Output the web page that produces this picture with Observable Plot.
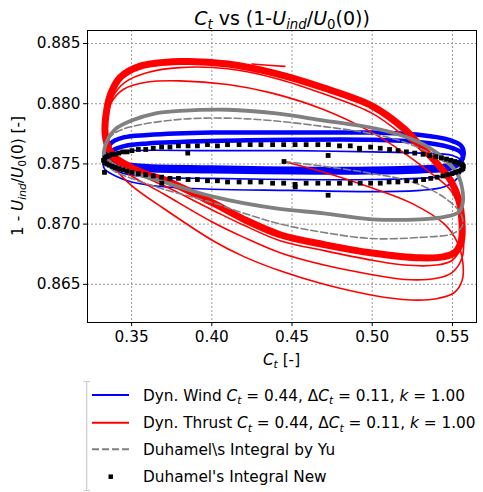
<!DOCTYPE html>
<html>
<head>
<meta charset="utf-8">
<script src="https://cdn.jsdelivr.net/npm/d3@7"></script>
<script src="https://cdn.jsdelivr.net/npm/@observablehq/plot@0.6"></script>
<style>
  html, body { margin: 0; padding: 0; background: white; }
  #wrap { position: relative; width: 483px; height: 492px; overflow: hidden; font-family: "DejaVu Sans", sans-serif; }
  #plot { position: absolute; left: 0; top: 0; }
  #legend { position: absolute; left: 0; top: 370px; }
</style>
</head>
<body>
<div id="wrap"><div id="plot"></div><svg id="legend" width="483" height="122"></svg></div>
<script>
// ---------- data ----------
const xTicks = [0.35, 0.40, 0.45, 0.50, 0.55];
const yTicks = [0.865, 0.870, 0.875, 0.880, 0.885];
const xDomain = [0.3225, 0.565];
const yDomain = [0.86183, 0.88608];

// Dyn. Wind (blue): two overlapping steady loops + early cycles
const windLoopA = [[0.3345,0.8758],[0.3370,0.8767],[0.3450,0.8772],[0.3600,0.8774],[0.4000,0.8776],[0.4500,0.8776],[0.5000,0.8776],[0.5300,0.8774],[0.5480,0.8770],[0.5555,0.8765],[0.5570,0.8758],[0.5555,0.8753],[0.5480,0.8749],[0.5300,0.8747],[0.5000,0.8746],[0.4500,0.8746],[0.4000,0.8747],[0.3600,0.8748],[0.3450,0.8750],[0.3370,0.8753]];
const windLoopB = [[0.3350,0.8755],[0.3380,0.8761],[0.3460,0.8765],[0.3600,0.8767],[0.4000,0.8769],[0.4500,0.8770],[0.5000,0.8770],[0.5300,0.8768],[0.5480,0.8764],[0.5550,0.8760],[0.5565,0.8756],[0.5550,0.8751],[0.5480,0.8746],[0.5300,0.8744],[0.5000,0.8743],[0.4500,0.8743],[0.4000,0.8744],[0.3600,0.8745],[0.3460,0.8747],[0.3380,0.8750]];
const windEarly = [[0.5565,0.8748],[0.5530,0.8738],[0.5450,0.8731],[0.5300,0.8728],[0.5000,0.8727],[0.4500,0.8728],[0.4000,0.8729],[0.3700,0.8731],[0.3500,0.8735],[0.3400,0.8740],[0.3330,0.8746],[0.3330,0.8754],[0.3380,0.8759],[0.3500,0.8761],[0.4000,0.8761],[0.4500,0.8761],[0.5000,0.8760],[0.5300,0.8759],[0.5500,0.8757],[0.5570,0.8751],[0.5540,0.8743],[0.5400,0.8739],[0.5000,0.8737],[0.4500,0.8737],[0.4000,0.8738],[0.3600,0.8739],[0.3450,0.8742],[0.3360,0.8748]];

// Dyn. Thrust (red): steady loop band + early cycles + trajectory end
const thrustLoop = [[0.3335,0.8775],[0.3345,0.8795],[0.3375,0.8810],[0.3430,0.8822],[0.3550,0.8831],[0.3800,0.8835],[0.4100,0.8833],[0.4400,0.8825],[0.4700,0.8813],[0.5000,0.8798],[0.5200,0.8779],[0.5300,0.8765],[0.5400,0.8751],[0.5490,0.8736],[0.5540,0.8720],[0.5560,0.8700],[0.5555,0.8686],[0.5520,0.8677],[0.5450,0.8673],[0.5300,0.8672],[0.5000,0.8676],[0.4700,0.8683],[0.4430,0.8691],[0.4200,0.8704],[0.4000,0.8718],[0.3700,0.8737],[0.3600,0.8741],[0.3500,0.8747],[0.3400,0.8755],[0.3360,0.8762]];
const thrustEarly = [[0.4450,0.8752],[0.4700,0.8743],[0.5000,0.8730],[0.5250,0.8717],[0.5450,0.8700],[0.5530,0.8685],[0.5565,0.8668],[0.5560,0.8653],[0.5510,0.8643],[0.5400,0.8638],[0.5240,0.8637],[0.5000,0.8641],[0.4700,0.8650],[0.4430,0.8661],[0.4200,0.8673],[0.4010,0.8686],[0.3700,0.8713],[0.3500,0.8732],[0.3400,0.8746],[0.3350,0.8762],[0.3340,0.8780],[0.3370,0.8800],[0.3450,0.8812],[0.3600,0.8818],[0.3800,0.8819],[0.4100,0.8816],[0.4370,0.8809],[0.4700,0.8795],[0.5000,0.8776],[0.5200,0.8759],[0.5350,0.8744],[0.5490,0.8728],[0.5550,0.8710],[0.5570,0.8690],[0.5560,0.8672],[0.5500,0.8660],[0.5400,0.8655],[0.5200,0.8654],[0.5000,0.8658],[0.4700,0.8666],[0.4430,0.8676],[0.4200,0.8689],[0.4000,0.8702],[0.3700,0.8725],[0.3500,0.8740],[0.3400,0.8750],[0.3350,0.8768],[0.3345,0.8785],[0.3380,0.8805],[0.3460,0.8818],[0.3600,0.8826],[0.3800,0.8830],[0.4100,0.8829],[0.4400,0.8821],[0.4700,0.8808],[0.5000,0.8792],[0.5200,0.8773],[0.5350,0.8756],[0.5480,0.8740],[0.5540,0.8722],[0.5565,0.8700],[0.5555,0.8682],[0.5500,0.8670],[0.5400,0.8666],[0.5200,0.8666],[0.5000,0.8670],[0.4700,0.8678],[0.4430,0.8686],[0.4200,0.8699],[0.4000,0.8712],[0.3700,0.8732],[0.3500,0.8744],[0.3400,0.8752],[0.3350,0.8768]];
const thrustEnd = [[0.4250,0.8833],[0.4350,0.8832],[0.4455,0.8831]];

// Duhamel's integral by Yu (grey dashed)
const yuLoop = [[0.3330,0.8757],[0.3350,0.8770],[0.3400,0.8779],[0.3500,0.8786],[0.3650,0.8792],[0.3800,0.8794],[0.4100,0.8795],[0.4400,0.8792],[0.4700,0.8786],[0.5000,0.8780],[0.5200,0.8773],[0.5350,0.8764],[0.5460,0.8753],[0.5530,0.8742],[0.5560,0.8730],[0.5565,0.8718],[0.5540,0.8710],[0.5450,0.8706],[0.5300,0.8704],[0.5000,0.8704],[0.4700,0.8709],[0.4400,0.8713],[0.4000,0.8723],[0.3700,0.8735],[0.3500,0.8743],[0.3390,0.8749]];
const yuEarly = [[0.4450,0.8752],[0.4700,0.8748],[0.5000,0.8742],[0.5250,0.8735],[0.5450,0.8722],[0.5555,0.8708],[0.5560,0.8698],[0.5500,0.8692],[0.5300,0.8689],[0.5000,0.8688],[0.4700,0.8693],[0.4430,0.8700],[0.4200,0.8709],[0.4000,0.8718],[0.3700,0.8729],[0.3500,0.8738],[0.3380,0.8745],[0.3325,0.8755],[0.3340,0.8768],[0.3400,0.8776],[0.3500,0.8781],[0.3800,0.8787],[0.4100,0.8788],[0.4370,0.8786],[0.4700,0.8781],[0.5000,0.8775],[0.5200,0.8768],[0.5400,0.8756],[0.5520,0.8743],[0.5565,0.8728]];

// Duhamel's integral New (black squares)
const newUpper = [[0.3325,0.8753],[0.3333,0.8755],[0.3345,0.8756],[0.3360,0.8757],[0.3378,0.8758],[0.3398,0.8758],[0.3420,0.8759],[0.3445,0.8760],[0.3472,0.8760],[0.3502,0.8761],[0.3542,0.8762],[0.3588,0.8762],[0.3635,0.8763],[0.3687,0.8764],[0.3739,0.8764],[0.3792,0.8765],[0.3852,0.8765],[0.3910,0.8765],[0.3973,0.8766],[0.4035,0.8765],[0.4098,0.8766],[0.4170,0.8766],[0.4239,0.8766],[0.4306,0.8766],[0.4379,0.8766],[0.4448,0.8766],[0.4519,0.8766],[0.4588,0.8766],[0.4661,0.8766],[0.4727,0.8766],[0.4796,0.8765],[0.4863,0.8765],[0.4921,0.8763],[0.4990,0.8764],[0.5050,0.8763],[0.5108,0.8762],[0.5161,0.8761],[0.5213,0.8760],[0.5265,0.8759],[0.5317,0.8758],[0.5358,0.8757],[0.5396,0.8756],[0.5431,0.8755],[0.5463,0.8754],[0.5490,0.8753],[0.5515,0.8752],[0.5535,0.8751],[0.5550,0.8750],[0.5562,0.8749],[0.5568,0.8748]];
const newLower = [[0.5565,0.8746],[0.5555,0.8745],[0.5540,0.8744],[0.5520,0.8743],[0.5497,0.8742],[0.5470,0.8741],[0.5440,0.8740],[0.5405,0.8739],[0.5365,0.8738],[0.5320,0.8737],[0.5270,0.8736],[0.5215,0.8736],[0.5160,0.8735],[0.5105,0.8735],[0.5050,0.8734],[0.4990,0.8734],[0.4925,0.8734],[0.4863,0.8734],[0.4796,0.8734],[0.4727,0.8734],[0.4661,0.8734],[0.4588,0.8734],[0.4519,0.8733],[0.4448,0.8734],[0.4379,0.8734],[0.4306,0.8735],[0.4239,0.8735],[0.4170,0.8735],[0.4098,0.8735],[0.4035,0.8736],[0.3973,0.8736],[0.3910,0.8737],[0.3852,0.8737],[0.3792,0.8738],[0.3739,0.8738],[0.3687,0.8739],[0.3635,0.8740],[0.3588,0.8741],[0.3542,0.8742],[0.3502,0.8743],[0.3472,0.8744],[0.3445,0.8745],[0.3420,0.8746],[0.3398,0.8747],[0.3378,0.8748],[0.3360,0.8749],[0.3345,0.8750],[0.3333,0.8751]];
const newOutliers = [[0.3331,0.8743],[0.3688,0.8734],[0.3850,0.8759],[0.4450,0.8752],[0.4725,0.8757],[0.4725,0.8724],[0.4520,0.8731],[0.4921,0.8762]];

// ---------- build tables ----------
const rows = (pairs, id) => pairs.map(([x, y]) => ({x, y, id}));
const windLoops = [...rows(windLoopA, "a"), ...rows(windLoopB, "b")];
const windEarlyRows = rows(windEarly, "e");
const thrustLoopRows = rows(thrustLoop, "l");
const thrustEarlyRows = rows(thrustEarly, "e");
const thrustEndRows = rows(thrustEnd, "end");
const yuLoopRows = rows(yuLoop, "l");
const yuEarlyRows = rows(yuEarly, "e");
const newRows = [...rows(newUpper, "u"), ...rows(newLower, "d"), ...rows(newOutliers, "o")];

const BLUE = "#0000ff", RED = "#ff0000", GREY = "#808080";
const FS = 15.3;

const chart = Plot.plot({
  width: 483, height: 370,
  marginLeft: 87, marginRight: 7, marginTop: 30, marginBottom: 48,
  style: {fontFamily: "DejaVu Sans", fontSize: FS + "px", background: "white", color: "black"},
  x: {domain: xDomain, label: null},
  y: {domain: yDomain, label: null},
  marks: [
    Plot.gridX(xTicks, {stroke: "#9a9a9a", strokeOpacity: 1, strokeWidth: 1, strokeDasharray: "2,2"}),
    Plot.gridY(yTicks, {stroke: "#9a9a9a", strokeOpacity: 1, strokeWidth: 1, strokeDasharray: "2,2"}),
    Plot.line(windLoops, {x: "x", y: "y", z: "id", curve: "catmull-rom-closed", stroke: BLUE, strokeWidth: 4.5}),
    Plot.line(windEarlyRows, {x: "x", y: "y", z: "id", curve: "catmull-rom", stroke: BLUE, strokeWidth: 1.6}),
    Plot.line(thrustEarlyRows, {x: "x", y: "y", z: "id", curve: "catmull-rom", stroke: RED, strokeWidth: 1.6}),
    Plot.line(thrustLoopRows, {x: "x", y: "y", z: "id", curve: "catmull-rom-closed", stroke: RED, strokeWidth: 7}),
    Plot.line(thrustEndRows, {x: "x", y: "y", z: "id", stroke: RED, strokeWidth: 1.6}),
    Plot.line(yuEarlyRows, {x: "x", y: "y", z: "id", curve: "catmull-rom", stroke: GREY, strokeWidth: 1.6, strokeDasharray: "7,3"}),
    Plot.line(yuLoopRows, {x: "x", y: "y", z: "id", curve: "catmull-rom-closed", stroke: GREY, strokeWidth: 3.8}),
    Plot.dot(newRows, {x: "x", y: "y", symbol: "square", r: 2.7, fill: "black", stroke: null}),
    Plot.frame({stroke: "black", strokeWidth: 1}),
    Plot.axisX(xTicks, {tickSize: 4, tickPadding: 5, tickFormat: d3.format(".2f"), fontSize: FS, stroke: "black", fill: "black"}),
    Plot.axisY(yTicks, {tickSize: 4, tickPadding: 3, tickFormat: d3.format(".3f"), fontSize: FS, stroke: "black", fill: "black"})
  ]
});
document.getElementById("plot").appendChild(chart);

// ---------- math-like text helper ----------
function addMath(textSel, parts, fs) {
  let shift = 0;
  for (const p of parts) {
    const target = p.sub ? fs * 0.22 : 0;
    const ts = textSel.append("tspan").text(p.t);
    if (p.i) ts.attr("font-style", "italic");
    if (p.sub) ts.attr("font-size", fs * 0.7);
    const dy = target - shift;
    if (dy !== 0) ts.attr("dy", dy);
    shift = target;
  }
}

const svg = d3.select(chart);
// title
const TFS = 19;
addMath(svg.append("text").attr("x", 282).attr("y", 25).attr("text-anchor", "middle")
  .attr("font-family", "DejaVu Sans").attr("font-size", TFS).attr("fill", "black"),
  [{t: "C", i: true}, {t: "t", i: true, sub: true}, {t: " vs (1-"}, {t: "U", i: true}, {t: "ind", i: true, sub: true},
   {t: "/"}, {t: "U", i: true}, {t: "0", sub: true}, {t: "(0))"}], TFS);
// x label
addMath(svg.append("text").attr("x", 281.5).attr("y", 365).attr("text-anchor", "middle")
  .attr("font-family", "DejaVu Sans").attr("font-size", FS).attr("fill", "black"),
  [{t: "C", i: true}, {t: "t", i: true, sub: true}, {t: " [-]"}], FS);
// y label
addMath(svg.append("text").attr("transform", "translate(23,176) rotate(-90)").attr("text-anchor", "middle")
  .attr("font-family", "DejaVu Sans").attr("font-size", FS).attr("fill", "black"),
  [{t: "1 - "}, {t: "U", i: true}, {t: "ind", i: true, sub: true}, {t: "/"}, {t: "U", i: true}, {t: "0", sub: true}, {t: "(0) [-]"}], FS);

// ---------- legend ----------
const legendItems = [
  {kind: "line", color: BLUE, parts: [{t: "Dyn. Wind "}, {t: "C", i: true}, {t: "t", i: true, sub: true}, {t: " = 0.44, Δ"}, {t: "C", i: true}, {t: "t", i: true, sub: true}, {t: " = 0.11, "}, {t: "k", i: true}, {t: " = 1.00"}]},
  {kind: "line", color: RED, parts: [{t: "Dyn. Thrust "}, {t: "C", i: true}, {t: "t", i: true, sub: true}, {t: " = 0.44, Δ"}, {t: "C", i: true}, {t: "t", i: true, sub: true}, {t: " = 0.11, "}, {t: "k", i: true}, {t: " = 1.00"}]},
  {kind: "dash", color: GREY, parts: [{t: "Duhamel\\s Integral by Yu"}]},
  {kind: "square", color: "black", parts: [{t: "Duhamel's Integral New"}]}
];
const leg = d3.select("#legend");
leg.append("path").attr("d", "M83.5,11.5H90M86.7,11.5V120.5M83.5,120.5H90").attr("stroke", "#cccccc").attr("stroke-width", 1.2).attr("fill", "none");
const rowY = [25, 52.7, 79.3, 106.7];
legendItems.forEach((it, i) => {
  const y = rowY[i];
  if (it.kind === "line") {
    leg.append("line").attr("x1", 92).attr("x2", 129).attr("y1", y).attr("y2", y).attr("stroke", it.color).attr("stroke-width", 2);
  } else if (it.kind === "dash") {
    leg.append("line").attr("x1", 92).attr("x2", 129).attr("y1", y).attr("y2", y).attr("stroke", it.color).attr("stroke-width", 2).attr("stroke-dasharray", "7,3");
  } else {
    leg.append("rect").attr("x", 108.5).attr("y", y - 2.25).attr("width", 4.5).attr("height", 4.5).attr("fill", it.color);
  }
  addMath(leg.append("text").attr("x", 143).attr("y", y + 5.5).attr("font-family", "DejaVu Sans").attr("font-size", FS).attr("fill", "black"), it.parts, FS);
});
</script>
</body>
</html>
